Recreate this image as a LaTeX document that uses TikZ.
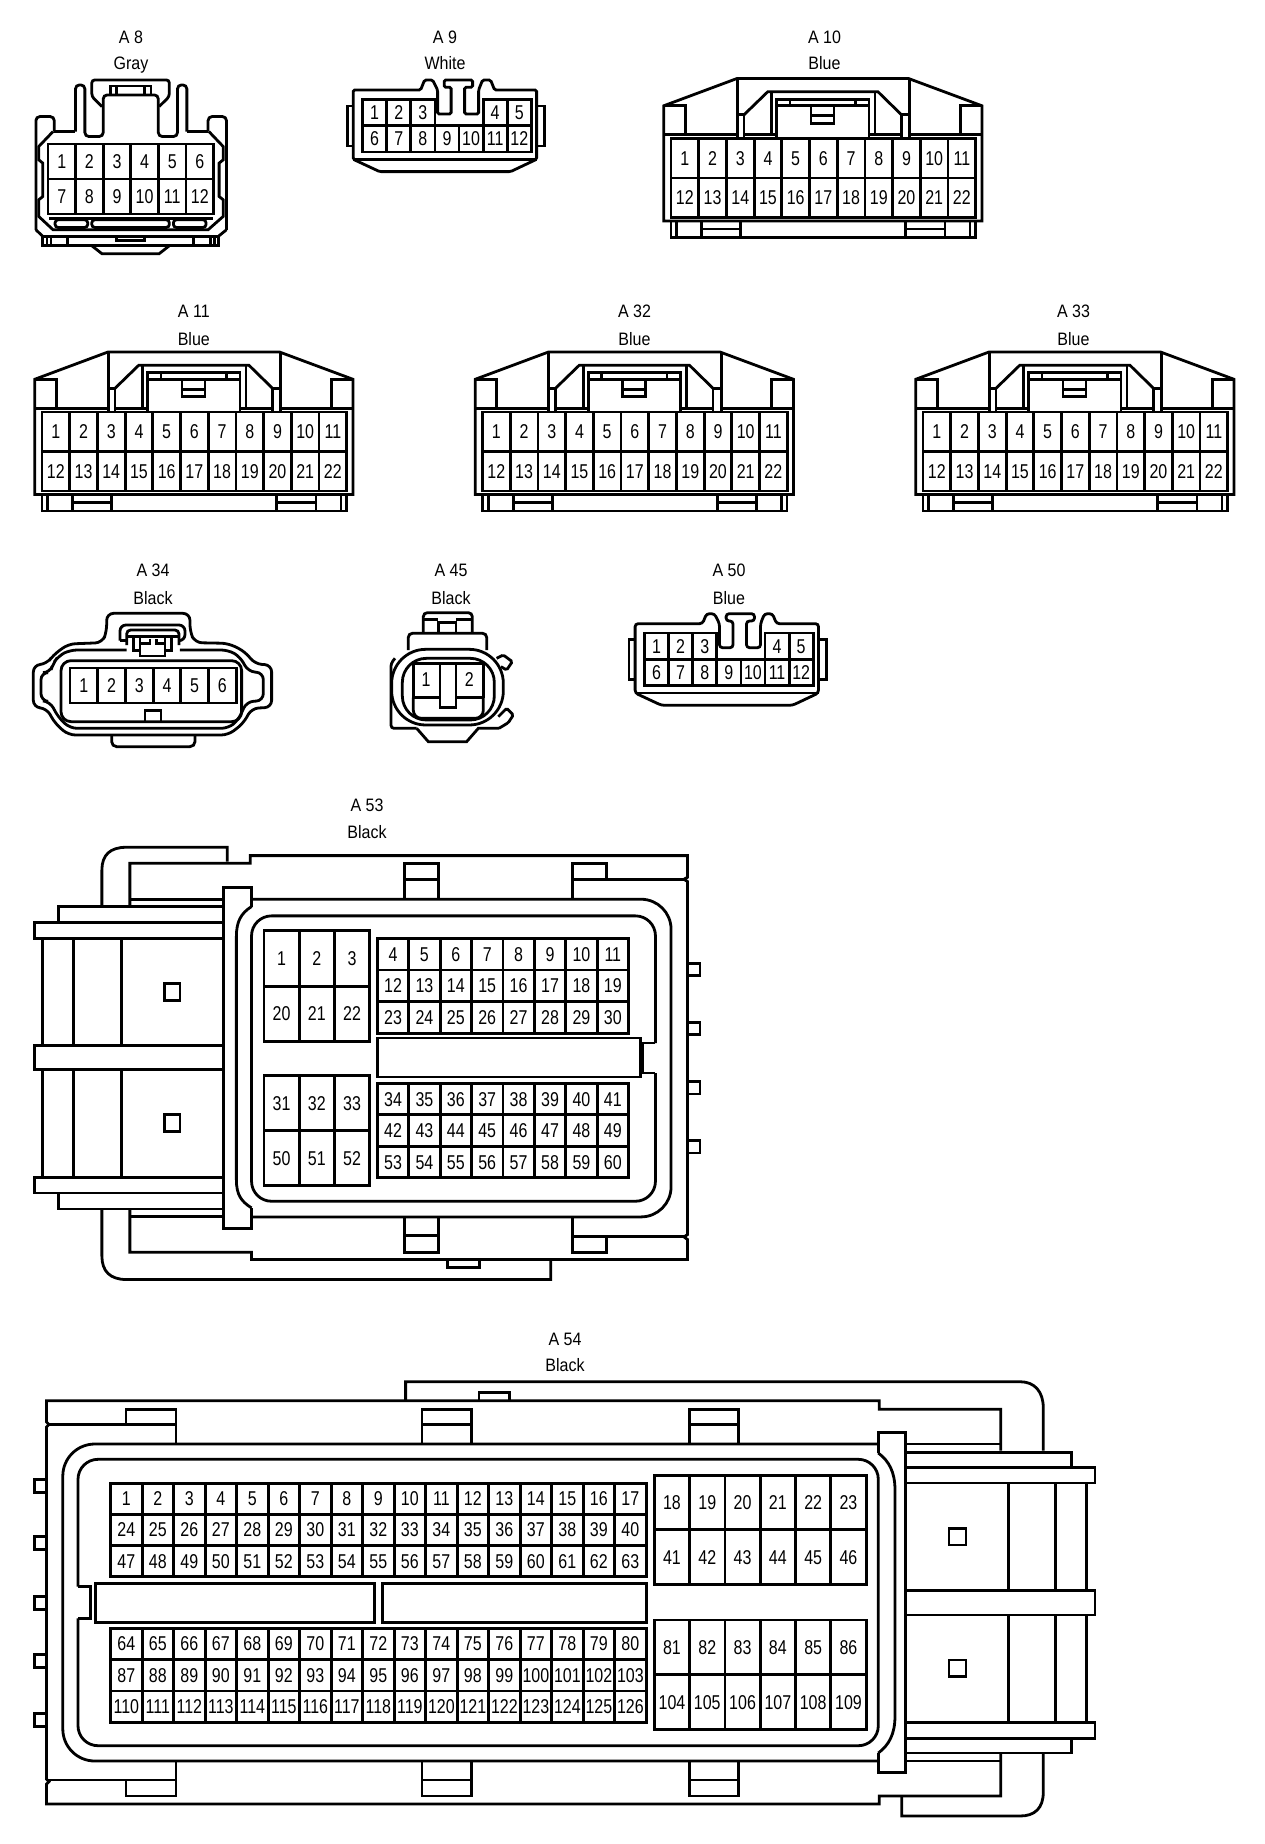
\documentclass[tikz,border=0pt]{standalone}
\usepackage{fontspec}
\newfontfamily\pinfont[FakeStretch=0.8]{Liberation Sans}
\newfontfamily\tagfont[FakeStretch=0.89]{Liberation Sans}

\tikzset{
	body/.style={draw, line width=2.8pt},
	pin/.style={font=\pinfont\fontsize{20}{20}\selectfont, anchor=base, inner sep=0pt},
	tagtext/.style={font=\tagfont\fontsize{18}{18}\selectfont, anchor=base, inner sep=0pt},
}

% name, left, top, cell width, cell height, columns, first pin of each row
\newcommand{\pinblock}[7]{
	\foreach \first [count=\r from 0] in {#7} {
		\foreach \c in {1,...,#6} {
			\pgfmathtruncatemacro{\n}{\first+\c-1}
			\pgfmathsetmacro{\xa}{#2+(\c-1)*#4}
			\pgfmathsetmacro{\ya}{#3+\r*#5}
			\draw[body] (\xa,\ya) rectangle ++(#4,#5);
			\node[pin] (#1-\n) at ({\xa+#4/2},{\ya+#5/2+7}) {\n};
		}
	}
}

% name, colour, x, first baseline, second baseline
\newcommand{\tagpair}[5]{
	\node[tagtext] (#1-name) at (#3,#4) {#1};
	\node[tagtext] (#1-colour) at (#3,#5) {#2};
}

% housing with 22 pins, given by the corner of its pin field
\newcommand{\widehousing}[3]{
	\begin{scope}[shift={(#2,#3)}]
		\draw[body] (-7.3,82.5) -- (-7.3,-32.7) -- (66,-60) -- (237.5,-60) -- (311,-32.7) -- (311,82.5) -- cycle;
		\draw[body] (0,82.5) -- (0,99) -- (304.5,99) -- (304.5,82.5);
		\draw[body] (5.6,82.5) -- (5.6,99) (30.6,82.5) -- (30.6,99) (69.7,82.5) -- (69.7,99)
			(30.6,90.5) -- (69.7,90.5) (234.8,82.5) -- (234.8,99) (274,82.5) -- (274,99)
			(234.8,90.5) -- (274,90.5) (299,82.5) -- (299,99);
		\draw[body] (-7.3,-32.7) -- (14.3,-32.7) -- (14.3,-3.7);
		\draw[body] (311,-32.7) -- (289.3,-32.7) -- (289.3,-3.7);
		\draw[body] (-7.3,-3.7) -- (66.1,-3.7) (73,-3.7) -- (105.7,-3.7)
			(198,-3.7) -- (230.5,-3.7) (238.7,-3.7) -- (311,-3.7);
		\draw[body] (66.1,-60) -- (66.1,1) (73,1) -- (73,-23.7) -- (66.1,-23.7);
		\draw[body] (238.7,-60) -- (238.7,1) (230.5,1) -- (230.5,-23.7) -- (238.7,-23.7);
		\draw[body] (73,-23.7) -- (96.7,-46.7) -- (207,-46.7) -- (230.5,-23.7);
		\draw[body] (100.8,-46.7) -- (100.8,-3.7) (204,-46.7) -- (204,-3.7);
		\draw[body] (105.7,0) -- (105.7,-39.3) -- (198,-39.3) -- (198,0);
		\draw[body] (105.7,-32.7) -- (198,-32.7) (119,-39.3) -- (119,-32.7) (184.4,-39.3) -- (184.4,-32.7);
		\draw[body] (140,-32.7) -- (140,-15.3) -- (163,-15.3) -- (163,-32.7) (140,-22.7) -- (163,-22.7);
	\end{scope}
	\pinblock{#1}{#2}{#3}{27.7}{39.5}{11}{1,12}
}

% housing with 12 pins and a latch on top, last value rounds its tabs
\newcommand{\narrowhousing}[4]{
	\begin{scope}[shift={(#2,#3)}]
		\draw[body, rounded corners=#4] (-9.4,10) -- (-9.4,-9.3) -- (58,-9.3) -- (62,-19.3) -- (70,-19.3) -- (75,-9.3)
			-- (75,14.7) -- (88.5,14.7) -- (88.5,-12) -- (81.6,-12) -- (81.6,-19.3) -- (110,-19.3) -- (110,-12)
			-- (102,-12) -- (102,14.7) -- (116,14.7) -- (116,-9.3) -- (120,-19.3) -- (128,-19.3) -- (132,-9.3)
			-- (174,-9.3) -- (174,60) -- (148,72.3) -- (17,72.3) -- (-9.4,60) -- cycle;
		\draw[body] (-9.4,60) -- (174,60);
		\draw[body] (-9.4,6.7) -- (-15.5,6.7) -- (-15.5,46.7) -- (-9.4,46.7);
		\draw[body] (174,6.7) -- (181.6,6.7) -- (181.6,46.7) -- (174,46.7);
	\end{scope}
	\pinblock{#1}{#2}{#3}{24.1}{26.3}{3}{1}
	\pinblock{#1}{#2+120.5}{#3}{24.1}{26.3}{2}{4}
	\pinblock{#1}{#2}{#3+26.3}{24.1}{26.3}{7}{6}
}

\begin{document}
\begin{tikzpicture}[x=1pt, y=-1pt]
	\useasboundingbox (0,0) rectangle (1264,1844);

	% A 8
	\begin{scope}[x=0.408pt, y=-0.333pt]
		\draw[body, rounded corners=4pt] (88,690) -- (88,350) -- (133,350) -- (133,395);
		\draw[body, rounded corners=4pt] (555,690) -- (555,350) -- (510,350) -- (510,395);
		\draw[body] (88,690) -- (105,710) -- (535,710) -- (555,690);
		\draw[body] (133,395) -- (185,395);
		\draw[body] (458,395) -- (510,395);
		\draw[body, rounded corners=4pt] (185,395) -- (185,255) -- (208,255) -- (208,410) -- (253,410) -- (253,285) -- (388,285)
			-- (388,410) -- (435,410) -- (435,255) -- (458,255) -- (458,395);
		\draw[body, rounded corners=3pt] (250,320) -- (225,290) -- (225,240) -- (415,240) -- (415,290) -- (390,320);
		\draw[body] (270,285) -- (270,258) -- (370,258) -- (370,285) (285,258) -- (285,285) (355,258) -- (355,285);
		\draw[body] (130,395) -- (95,440) -- (95,480) -- (105,490) -- (105,590) -- (95,600) -- (95,650) -- (130,690) -- (510,690)
			-- (547,650) -- (547,600) -- (537,590) -- (537,490) -- (547,480) -- (547,440) -- (512,395);
		\draw[body] (120,655) -- (522,655);
		\draw[body, rounded corners=3pt] (135,660) rectangle (215,683);
		\draw[body, rounded corners=3pt] (225,660) rectangle (415,683);
		\draw[body, rounded corners=3pt] (425,660) rectangle (505,683);
		\draw[body] (105,710) -- (105,738) -- (535,738) -- (535,710);
		\draw[body] (115,710) -- (115,738) (125,710) -- (125,738) (165,710) -- (165,738)
			(475,710) -- (475,738) (515,710) -- (515,738) (525,710) -- (525,738);
		\draw[body] (285,710) -- (285,722) -- (355,722) -- (355,710);
		\draw[body] (225,738) -- (250,762) -- (390,762) -- (415,738);
	\end{scope}
	\pinblock{A8}{48}{144}{27.6}{35}{6}{1,7}
	\tagpair{A 8}{Gray}{131}{43.5}{70}

	\narrowhousing{A9}{362.6}{99.3}{1.5pt}
	\tagpair{A 9}{White}{445}{43.5}{70}

	\widehousing{A10}{671}{138.5}
	\tagpair{A 10}{Blue}{824.5}{43.5}{70}

	\widehousing{A11}{42}{412}
	\tagpair{A 11}{Blue}{193.8}{317}{345}
	\widehousing{A32}{482.5}{412}
	\tagpair{A 32}{Blue}{634.5}{317}{345}
	\widehousing{A33}{923}{412}
	\tagpair{A 33}{Blue}{1073.5}{317}{345}

	% A 34
	\begin{scope}[shift={(25,600)}, x=0.3333pt, y=-0.3333pt]
		\draw[body, rounded corners=7pt] (370,40) -- (245,40) -- (245,95) -- (232,128) -- (130,132) -- (85,165) -- (65,192) -- (25,195)
			-- (25,322) -- (65,325) -- (90,370) -- (130,405) -- (610,405) -- (655,370) -- (680,325) -- (740,322)
			-- (740,195) -- (690,192) -- (660,155) -- (610,130) -- (510,128) -- (495,95) -- (495,40) -- cycle;
		\draw[body, rounded corners=7pt] (305,150) -- (135,150) -- (100,168) -- (85,190) -- (75,218) -- (48,218) -- (48,302) -- (75,305)
			-- (100,352) -- (135,385) -- (610,385) -- (640,360) -- (665,305) -- (715,302) -- (715,218) -- (670,215)
			-- (645,170) -- (610,150) -- (465,150);
		\draw[body, rounded corners=10pt] (108,182) rectangle (650,365);
		\draw[body, rounded corners=6pt] (285,122) -- (285,75) -- (480,75) -- (480,122) -- (462,122);
		\draw[body] (305,122) -- (285,122);
		\draw[body, rounded corners=4pt] (305,135) -- (305,90) -- (462,90) -- (462,135);
		\draw[body] (305,110) -- (462,110) (325,110) -- (325,152) -- (345,152) (440,110) -- (440,152) -- (420,152);
		\draw[body] (345,110) -- (345,168) -- (420,168) -- (420,110) (345,130) -- (375,130) -- (375,118) (420,130) -- (395,130) -- (395,118);
		\draw[body] (360,365) -- (360,332) -- (408,332) -- (408,365);
		\draw[body, rounded corners=5pt] (260,405) -- (260,440) -- (510,440) -- (510,405);
	\end{scope}
	\pinblock{A34}{70}{668}{27.7}{35}{6}{1}
	\tagpair{A 34}{Black}{153}{576}{604}

	% A 45
	\begin{scope}[shift={(375,600)}, x=0.3333pt, y=-0.3333pt]
		\draw[body, rounded corners=4pt] (145,100) -- (145,38) -- (292,38) -- (292,100);
		\draw[body] (145,58) -- (190,58) (243,58) -- (292,58);
		\draw[body] (190,100) -- (190,68) -- (243,68) -- (243,100);
		\draw[body, rounded corners=4pt] (100,150) -- (100,100) -- (335,100) -- (335,150);
		\draw[body, rounded corners=3pt] (60,175) -- (48,190) -- (48,385) -- (125,385);
		\draw[body] (125,385) -- (160,425) -- (275,425) -- (310,385) -- (372,385);
		\draw[body, rounded corners=1.5pt] (365,175) -- (385,165) -- (412,185) -- (395,210) -- (378,200);
		\draw[body, rounded corners=1.5pt] (370,350) -- (395,325) -- (415,345) -- (400,368) -- (372,385);
		\draw[body, fill=white, rounded corners=34pt] (50,148) rectangle (385,375);
		\draw[body, rounded corners=24pt] (82,175) rectangle (358,360);
		\draw[body] (115,293) -- (115,190) -- (325,190) -- (325,293);
		\draw[body, rounded corners=8pt] (115,293) -- (115,355) -- (325,355) -- (325,293);
		\draw[body] (115,293) -- (195,293) (243,293) -- (325,293);
		\draw[body] (195,190) -- (195,322) -- (243,322) -- (243,190);
	\end{scope}
	\node[pin] (A45-1) at (426,686.7) {1};
	\node[pin] (A45-2) at (469.3,686.7) {2};
	\tagpair{A 45}{Black}{451}{576}{604}

	\narrowhousing{A50}{644.5}{633}{3pt}
	\tagpair{A 50}{Blue}{729}{576}{604}

	% A 53
	\begin{scope}[shift={(0,790)}, x=0.459pt, y=-0.333pt]
		\draw[body] (283,350) -- (283,220) -- (545,220) -- (545,197) -- (1498,197) -- (1498,262) -- (1490,268) -- (1498,275)
			-- (1498,1335) -- (1490,1342) -- (1498,1350) -- (1498,1410) -- (548,1410) -- (548,1388) -- (283,1388) -- (283,1258);
		\draw[body] (495,215) -- (495,172) -- (275,172) .. controls (240,172) and (222,195) .. (222,240) -- (222,348);
		\draw[body] (222,1258) -- (222,1400) .. controls (222,1445) and (240,1470) .. (275,1470) -- (1200,1470) -- (1200,1410);
		\draw[body] (975,1410) -- (975,1435) -- (1045,1435) -- (1045,1410);
		\draw[body] (882,325) -- (882,220) -- (955,220) -- (955,325) (882,268) -- (955,268);
		\draw[body] (1248,325) -- (1248,220) -- (1322,220) -- (1322,268) (1248,268) -- (1490,268);
		\draw[body] (882,1285) -- (882,1388) -- (955,1388) -- (955,1285) (882,1337) -- (955,1337);
		\draw[body] (1248,1285) -- (1248,1388) -- (1322,1388) -- (1322,1342) (1248,1342) -- (1490,1342);
		\draw[body] (283,328) -- (487,328) (283,1280) -- (487,1280);
		\draw[body] (548,350) -- (548,293) -- (487,293) -- (487,1318) -- (548,1318) -- (548,1255);
		\draw[body] (548,350) .. controls (525,370) and (515,395) .. (515,440) -- (515,1170) .. controls (515,1215) and (525,1235) .. (548,1255);
		\draw[body, rounded corners=30pt] (548,328) -- (1462,328) -- (1462,1282) -- (548,1282);
		\draw[body, rounded corners=20pt] (1428,760) -- (1428,378) -- (548,378) -- (548,1235) -- (1428,1235) -- (1428,850);
		\draw[body] (1428,760) -- (1400,760) -- (1400,850) -- (1428,850);
		\draw[body] (128,398) -- (128,350) -- (487,350) (128,1210) -- (128,1258) -- (487,1258);
		\draw[body] (487,398) -- (75,398) -- (75,445) -- (487,445);
		\draw[body] (487,768) -- (75,768) -- (75,840) -- (487,840);
		\draw[body] (487,1163) -- (75,1163) -- (75,1210) -- (487,1210);
		\foreach \xa in {93,160,265} {
			\draw[body] (\xa,445) -- (\xa,768) (\xa,840) -- (\xa,1163);
		}
		\draw[body] (358,582) rectangle (392,632);
		\draw[body] (358,975) rectangle (392,1025);
		\foreach \ya in {520,697,875,1052} {
			\draw[body] (1498,\ya) -- (1525,\ya) -- (1525,\ya+38) -- (1498,\ya+38);
		}
		\draw[body] (822,745) rectangle (1395,862);
	\end{scope}
	\pinblock{A53}{264}{930.7}{35.2}{55.5}{3}{1,20}
	\pinblock{A53}{377.3}{938.3}{31.4}{31.7}{8}{4,12,23}
	\pinblock{A53}{264}{1075.7}{35.2}{55}{3}{31,50}
	\pinblock{A53}{377.3}{1083.3}{31.4}{31.5}{8}{34,42,53}
	\tagpair{A 53}{Black}{367}{811}{838}

	% A 54
	\draw[body] (1000.7,1450.7) -- (1000.7,1409.3) -- (879.3,1409.3) -- (879.3,1400.7) -- (46.5,1400.7) -- (46.5,1422) -- (49,1424.5)
		-- (46.5,1427) -- (46.5,1779) -- (49,1781.5) -- (46.5,1784) -- (46.5,1804) -- (879.3,1804) -- (879.3,1796) -- (1000.7,1796) -- (1000.7,1753);
	\draw[body] (405.6,1400.7) -- (405.6,1381.7) -- (1020,1381.7) .. controls (1035,1381.7) and (1043.3,1392) .. (1043.3,1408) -- (1043.3,1450.7);
	\draw[body] (1043.3,1753) -- (1043.3,1792) .. controls (1043.3,1808) and (1035,1816) .. (1020,1816) -- (901.7,1816) -- (901.7,1796);
	\draw[body] (479,1400.7) -- (479,1392.7) -- (509.6,1392.7) -- (509.6,1400.7);
	\draw[body] (46.5,1424.3) -- (175.9,1424.3) (126,1424.3) -- (126,1409.3) -- (175.9,1409.3) -- (175.9,1444);
	\draw[body] (46.5,1780) -- (175.9,1780) (126,1780) -- (126,1796) -- (175.9,1796) -- (175.9,1761);
	\foreach \xa in {421.9,689.3} {
		\draw[body] (\xa,1444) -- (\xa,1409.3) -- ++(49.5,0) -- ++(0,34.7) (\xa,1424.3) -- ++(49.5,0);
		\draw[body] (\xa,1761) -- (\xa,1796) -- ++(49.5,0) -- ++(0,-35) (\xa,1780) -- ++(49.5,0);
	}
	\draw[body, rounded corners=32pt] (878.3,1444) -- (62.8,1444) -- (62.8,1761) -- (878.3,1761);
	\draw[body] (878.3,1453) -- (878.3,1432.3) -- (905.7,1432.3) -- (905.7,1772.3) -- (878.3,1772.3) -- (878.3,1753);
	\draw[body] (878.3,1453) .. controls (889,1461) and (895,1472) .. (895,1490) -- (895,1716) .. controls (895,1734) and (889,1745) .. (878.3,1753);
	\draw[body, rounded corners=20pt] (78,1586.7) -- (78,1459.3) -- (878.3,1459.3) -- (878.3,1745.7) -- (78,1745.7) -- (78,1618.3);
	\draw[body] (78,1586.7) -- (90.2,1586.7) -- (90.2,1618.3) -- (78,1618.3);
	\draw[body] (905.7,1444) -- (1000.7,1444) (905.7,1761) -- (1000.7,1761);
	\draw[body] (905.7,1452.3) -- (1071.7,1452.3) -- (1071.7,1467.3);
	\draw[body] (905.7,1753) -- (1071.7,1753) -- (1071.7,1738.3);
	\draw[body] (905.7,1467.3) -- (1095,1467.3) -- (1095,1483) -- (905.7,1483);
	\draw[body] (905.7,1590.7) -- (1095,1590.7) -- (1095,1615) -- (905.7,1615);
	\draw[body] (905.7,1722.7) -- (1095,1722.7) -- (1095,1738.3) -- (905.7,1738.3);
	\foreach \xa in {1008.3,1055.7,1086.7} {
		\draw[body] (\xa,1483) -- (\xa,1590.7) (\xa,1615) -- (\xa,1722.7);
	}
	\draw[body] (949,1528.3) rectangle (966,1545);
	\draw[body] (949,1660) rectangle (966,1676.7);
	\foreach \ya in {1479.3,1536.7,1596.7,1654.3,1713.3} {
		\draw[body] (46.5,\ya) -- (34.3,\ya) -- (34.3,\ya+13) -- (46.5,\ya+13);
	}
	\draw[body] (95.5,1583.3) rectangle (374.1,1622.7);
	\draw[body] (382.3,1583.3) rectangle (646.3,1622.7);
	\pinblock{A54}{110.6}{1483.3}{31.5}{31.1}{17}{1,24,47}
	\pinblock{A54}{110.6}{1628.3}{31.5}{31.3}{17}{64,87,110}
	\pinblock{A54}{654.3}{1475.3}{35.3}{54.5}{6}{18,41}
	\pinblock{A54}{654.3}{1620}{35.3}{54.7}{6}{81,104}
	\tagpair{A 54}{Black}{565}{1345}{1371.7}
\end{tikzpicture}
\end{document}
